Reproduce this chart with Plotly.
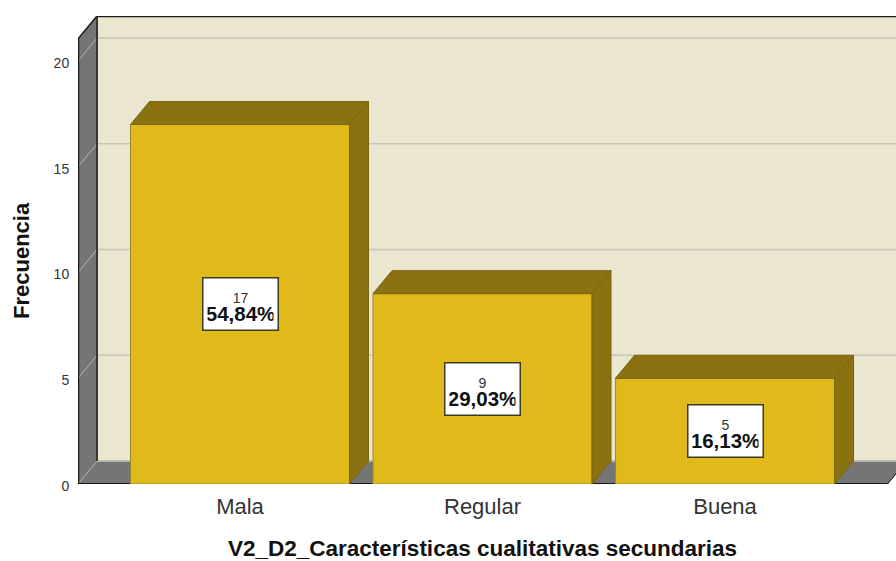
import plotly.graph_objects as go

categories = ["Mala", "Regular", "Buena"]
counts = [17, 9, 5]
percents = ["54,84%", "29,03%", "16,13%"]
y_ticks = [0, 5, 10, 15, 20]

x_pos = [0, 1, 2]
BAR_W = 0.903
DX = 0.0784   # depth of the 3D box, in axis units
DY = 1.0875
X_MIN, X_MAX = -0.668, 2.705
X_FRONT_END = 2.67
Y_MAX = 22.13
Y_FRONT_TOP = 21.05

WALL = "#EBE6D0"
SIDE = "#757575"
GOLD = "#E0B91B"
DARK_GOLD = "#8A7210"
GRID = "#C8C5B8"
EDGE = "#1A1A1A"
TEXT = "#333333"
FONT = "Liberation Sans, Arial, sans-serif"

plot_l, plot_r, plot_t, plot_b = 78, 896, 16, 484


def poly(xs, ys, color, line_color=None, width=1):
    path = "M " + " L ".join(f"{a} {b}" for a, b in zip(xs, ys)) + " Z"
    return dict(type="path", path=path, xref="x", yref="y", layer="below",
                fillcolor=color, line=dict(color=line_color or color, width=width))


def seg(x0, y0, x1, y1, color, width=1):
    return dict(type="line", x0=x0, y0=y0, x1=x1, y1=y1, xref="x", yref="y",
                layer="below", line=dict(color=color, width=width))


shapes = [
    # back wall, left wall, floor
    poly([X_MIN + DX, X_MAX + 1, X_MAX + 1, X_MIN + DX], [DY, DY, Y_MAX, Y_MAX], WALL),
    poly([X_MIN, X_MIN + DX, X_MIN + DX, X_MIN], [0, DY, Y_MAX, Y_FRONT_TOP], SIDE),
    poly([X_MIN, X_FRONT_END, X_FRONT_END + DX, X_MIN + DX], [0, 0, DY, DY], SIDE),
]
for t in y_ticks:
    shapes.append(seg(X_MIN + DX, t + DY, X_MAX, t + DY, GRID, 1.5))
    shapes.append(seg(X_MIN, t, X_MIN + DX, t + DY, "#B5B5B5", 1))
shapes += [
    seg(X_MIN + DX, Y_MAX - 0.02, X_MAX, Y_MAX - 0.02, EDGE, 1.5),
    seg(X_MIN + DX, DY, X_MIN + DX, Y_MAX, EDGE, 1.5),
    seg(X_MIN, Y_FRONT_TOP, X_MIN + DX, Y_MAX, EDGE, 1.5),
    seg(X_MIN + 0.002, 0, X_MIN + 0.002, Y_FRONT_TOP, EDGE, 1.5),
    seg(X_MIN, 0, X_FRONT_END, 0, EDGE, 2),
    seg(X_FRONT_END, 0, X_FRONT_END + DX, DY, EDGE, 1),
]

fig = go.Figure()

# top and side faces of each bar
for p, v in zip(x_pos, counts):
    left, right = p - BAR_W / 2, p + BAR_W / 2
    fig.add_trace(go.Scatter(
        x=[left, left + DX, right + DX, right, left],
        y=[v, v + DY, v + DY, v, v],
        mode="lines", fill="toself", fillcolor=DARK_GOLD,
        line=dict(color="#7A6510", width=1), hoverinfo="skip"))
    fig.add_trace(go.Scatter(
        x=[right, right + DX, right + DX, right, right],
        y=[0, DY, v + DY, v, 0],
        mode="lines", fill="toself", fillcolor=DARK_GOLD,
        line=dict(color="#7A6510", width=1), hoverinfo="skip"))

fig.add_trace(go.Bar(x=x_pos, y=counts, width=BAR_W, marker_color=GOLD,
                     marker_line=dict(color="#9A8A2E", width=1)))

annotations = []
for p, v, pct in zip(x_pos, counts, percents):
    # line spacing follows the base font size, so the big line goes in a span
    annotations.append(dict(
        x=p, y=v / 2, xref="x", yref="y", showarrow=False, width=66, height=43,
        text=f"{v}<br><b><span style='font-size:20.5px;fill:#111111'>{pct}</span></b>",
        font=dict(family=FONT, size=14, color=TEXT),
        bgcolor="white", bordercolor="#3A3A20", borderwidth=1.5, borderpad=4,
        align="center", valign="bottom"))

annotations.append(dict(
    x=x_pos[1], y=(plot_b - 548) / (plot_b - plot_t), xref="x", yref="paper",
    yanchor="middle", xanchor="center", showarrow=False,
    text="<b>V2_D2_Características cualitativas secundarias</b>",
    font=dict(family=FONT, size=22.5, color="#111111")))
annotations.append(dict(
    x=(21 - plot_l) / (plot_r - plot_l), y=(plot_b - 261) / (plot_b - plot_t),
    xref="paper", yref="paper", yanchor="middle", xanchor="center",
    showarrow=False, textangle=-90,
    text="<b>Frecuencia</b>", font=dict(family=FONT, size=22, color="#111111")))

fig.update_layout(
    width=896, height=561, showlegend=False, barmode="overlay",
    paper_bgcolor="white", plot_bgcolor="white",
    margin=dict(l=plot_l, r=896 - plot_r, t=plot_t, b=561 - plot_b, pad=0),
    shapes=shapes, annotations=annotations,
    xaxis=dict(range=[X_MIN, X_MAX], tickmode="array", tickvals=x_pos, ticktext=categories,
               showgrid=False, zeroline=False, showline=False, ticks="outside", ticklen=3,
               tickcolor="rgba(0,0,0,0)", tickfont=dict(family=FONT, size=22, color=TEXT)),
    yaxis=dict(range=[0, Y_MAX], tickmode="array", tickvals=y_ticks,
               showgrid=False, zeroline=False, showline=False, ticks="outside", ticklen=5,
               ticklabelshift=2,
               tickcolor="rgba(0,0,0,0)", tickfont=dict(family=FONT, size=14, color=TEXT)),
)

fig.write_html("out.html", config=dict(displayModeBar=False),
               post_script="document.body.style.margin='0';")
